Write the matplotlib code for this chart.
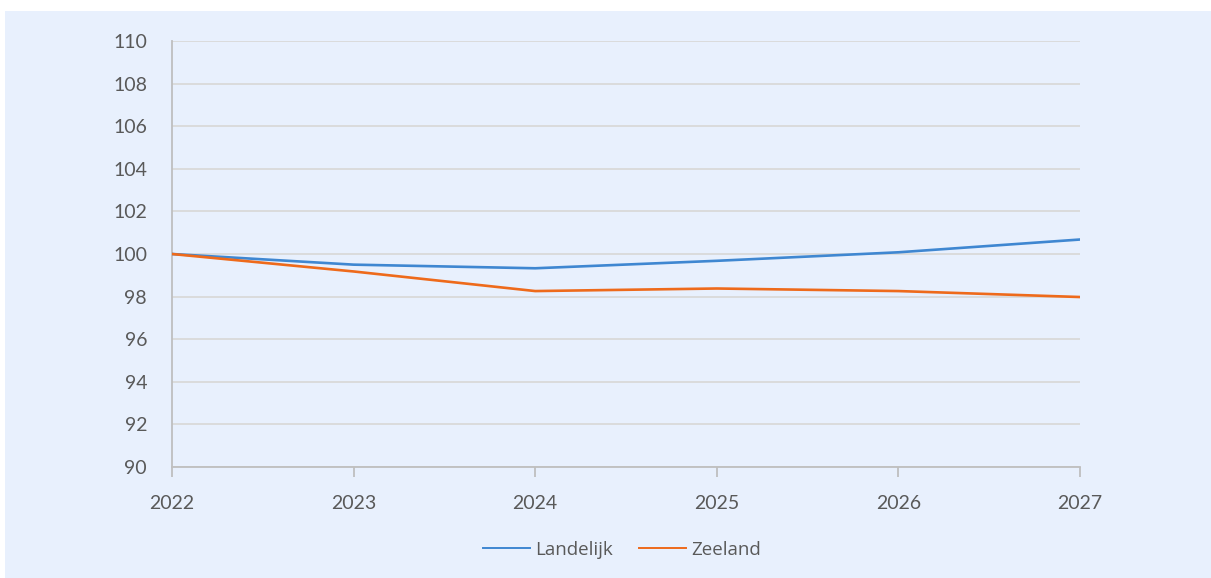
import matplotlib
matplotlib.use("Agg")
import matplotlib.pyplot as plt
from matplotlib.patches import Rectangle

years = [2022, 2023, 2024, 2025, 2026, 2027]
landelijk = [100.0, 99.5, 99.33, 99.68, 100.08, 100.68]
zeeland = [100.0, 99.18, 98.26, 98.38, 98.26, 97.98]
y_ticks = list(range(90, 111, 2))

W, H = 1211, 578
plt.rcParams['font.family'] = ['Open Sans', 'DejaVu Sans']
fig = plt.figure(figsize=(W / 100, H / 100), dpi=100)
fig.patch.set_facecolor("white")
bg = "#E8F0FD"
fig.patches.append(Rectangle((5 / W, 0), 1 - 5 / W, (H - 11) / H,
                             transform=fig.transFigure, facecolor=bg,
                             edgecolor="none", zorder=-10))

ax = fig.add_axes([172 / W, 1 - 467 / H, (1080 - 172) / W, (467 - 41) / H])
ax.set_facecolor(bg)

ax.plot(years, landelijk, color="#3F87D1", lw=1.9, label="Landelijk", zorder=3)
ax.plot(years, zeeland, color="#EE6A1B", lw=1.9, label="Zeeland", zorder=3)

ax.set_xlim(2022, 2027)
ax.set_ylim(90, 110)
ax.set_yticks(y_ticks)
ax.set_xticks(years)
ax.grid(axis="y", color="#D9D9D9", lw=1.3)
ax.set_axisbelow(True)
for s in ["top", "right"]:
    ax.spines[s].set_visible(False)
for s in ["left", "bottom"]:
    ax.spines[s].set_color("#BFBFBF")
    ax.spines[s].set_linewidth(1.3)
ax.tick_params(axis="y", length=0, pad=18, labelsize=14, labelcolor="#595959")
ax.tick_params(axis="x", length=7, width=1.3, color="#BFBFBF", pad=13,
               labelsize=14, labelcolor="#595959")
for lbl in ax.get_xticklabels() + ax.get_yticklabels():
    lbl.set_fontfamily(['Lato', 'DejaVu Sans'])

leg = fig.legend(loc="center", bbox_to_anchor=(622 / W, 1 - 550 / H), ncol=2,
                 frameon=False, fontsize=13.5, handlelength=2.5,
                 handletextpad=0.3, columnspacing=1.4)
for t in leg.get_texts():
    t.set_color("#595959")
for l in leg.get_lines():
    l.set_linewidth(1.4)

fig.savefig("out.png", dpi=100, facecolor="white")
